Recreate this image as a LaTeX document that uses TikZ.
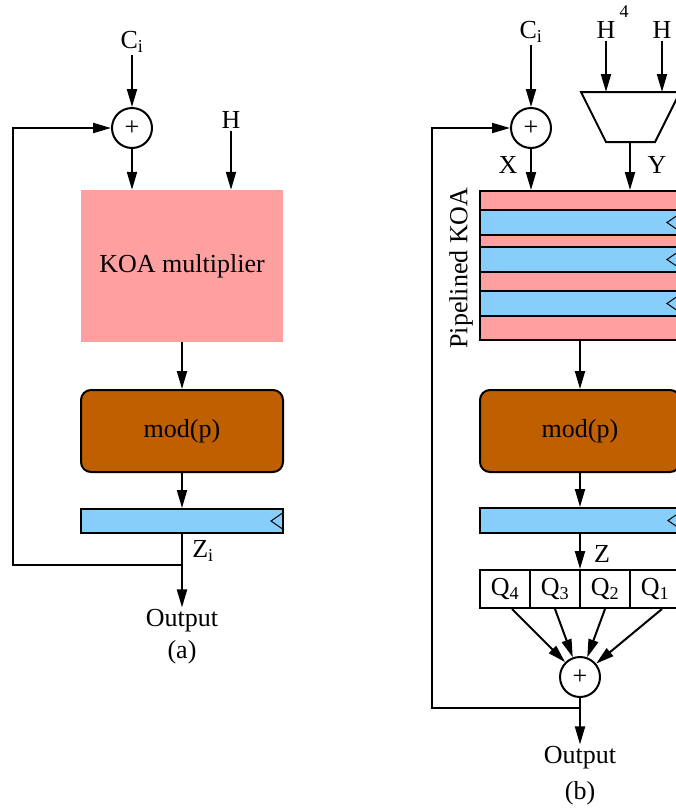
\documentclass[tikz,border=0pt]{standalone}
\usepackage{fontspec}
\setmainfont{Liberation Serif}
\usetikzlibrary{arrows.meta, positioning, calc}
\definecolor{koapink}{HTML}{FFA0A0}
\definecolor{modbrown}{HTML}{BF5F00}
\definecolor{regblue}{HTML}{87CEFA}
\tikzset{arr/.style={-{Triangle[length=18pt,width=10pt]}, line width=2pt},
    wire/.style={line width=2pt},
    sumnode/.style={circle, draw, line width=2pt, minimum size=40pt, inner sep=0pt},
    koabox/.style={fill=koapink, minimum width=202pt, minimum height=152pt},
    modbox/.style={draw, line width=2pt, fill=modbrown, rounded corners=10pt, minimum width=202pt, minimum height=82pt},
    regbox/.style={draw, line width=2pt, fill=regblue, minimum width=202pt, minimum height=24pt},
    qcell/.style={draw, line width=2pt, minimum width=50pt, minimum height=38pt, inner sep=0pt},
    lbl/.style={inner sep=2pt}}
\newcommand{\clk}[1]{\draw[line width=1pt] ([yshift=9pt]#1) -- ++(-13,9) -- ++(13,9);}

\begin{document}
\begin{tikzpicture}[x=1pt, y=-1pt, font=\fontsize{26}{30}\selectfont]
    \useasboundingbox (0,0) rectangle (676,812);
    \clip (0,0) rectangle (676,812);
    % (a)
    \node[lbl] (cia) at (132,42) {C\textsubscript{i}};
    \node[sumnode] (suma) at (132,128) {+};
    \node[lbl] (ha) at (231,120) {H};
    \node[koabox] (koa) at (182,266) {KOA multiplier};
    \node[modbox] (moda) at (182,431) {mod(p)};
    \node[regbox] (rega) at (182,521) {};
    \clk{rega.east}
    \coordinate (ja) at (182,565);
    \coordinate (fba) at (13,565);
    \node[lbl] (zia) at (203,551) {Z\textsubscript{i}};
    \node[lbl] (outa) at (182,621) {Output};
    \node[lbl] (capa) at (182,652) {(a)};
    \draw[arr] (cia) -- (suma);
    \draw[arr] (suma) -- (suma |- koa.north);
    \draw[arr] (ha) -- (ha |- koa.north);
    \draw[arr] (koa.south) -- (moda.north);
    \draw[arr] (moda.south) -- (rega.north);
    \draw[wire] (rega.south) -- (ja);
    \draw[arr] (ja) -- (outa);
    \draw[arr] (ja) -- (fba) |- (suma);
    % (b)
    \node[lbl] (cib) at (531,32) {C\textsubscript{i}};
    \node[sumnode] (sumb) at (531,128) {+};
    \node[lbl] (h4) at (606,30) {H};
    \node[lbl, font=\fontsize{18}{20}\selectfont] (h4e) at (624,12) {4};
    \node[lbl] (hb) at (662,30) {H};
    \draw[wire] (581,92) coordinate (muxtop) -- (680,92) -- (655,142) -- (606,142) -- cycle;
    \coordinate (muxb) at (630,142);
    \node[lbl] (xb) at (508,165) {X};
    \node[lbl] (yb) at (657,165) {Y};
    \node[koabox, draw, line width=2pt, minimum width=200pt, minimum height=149pt] (pkoa) at (580,265.5) {};
    \foreach \t in {210,247,291} {
        \draw[line width=2pt, fill=regblue] (480,\t) rectangle (680,\t+25);
        \clk{680,\t+12.5}
    }
    \node[lbl, rotate=90] (plbl) at (461,268) {Pipelined KOA};
    \node[modbox, minimum width=200pt] (modb) at (580,431) {mod(p)};
    \node[regbox, minimum width=200pt, minimum height=25pt] (regb) at (580,520.5) {};
    \clk{regb.east}
    \node[lbl] (zb) at (602,554) {Z};
    \foreach \i/\x in {4/505,3/555,2/605,1/655}
        \node[qcell] (q\i) at (\x,589) {Q\textsubscript{\i}};
    \node[sumnode] (sumq) at (580,677) {+};
    \coordinate (jb) at (580,708);
    \coordinate (fbb) at (432,708);
    \node[lbl] (outb) at (580,758) {Output};
    \node[lbl] (capb) at (580,793) {(b)};
    \draw[arr] (cib) -- (sumb);
    \draw[arr] (sumb) -- (sumb |- pkoa.north);
    \draw[arr] (h4) -- (h4 |- muxtop);
    \draw[arr] (hb) -- (hb |- muxtop);
    \draw[arr] (muxb) -- (muxb |- pkoa.north);
    \draw[arr] (pkoa.south) -- (modb.north);
    \draw[arr] (modb.south) -- (regb.north);
    \draw[arr] (regb.south) -- (regb.south |- q2.north);
    \draw[arr] ([xshift=7pt]q4.south) -- (sumq);
    \draw[arr] (q3.south) -- (sumq);
    \draw[arr] (q2.south) -- (sumq);
    \draw[arr] ([xshift=7pt]q1.south) -- (sumq);
    \draw[wire] (sumq) -- (jb);
    \draw[arr] (jb) -- (outb);
    \draw[arr] (jb) -- (fbb) |- (sumb);
\end{tikzpicture}
\end{document}
